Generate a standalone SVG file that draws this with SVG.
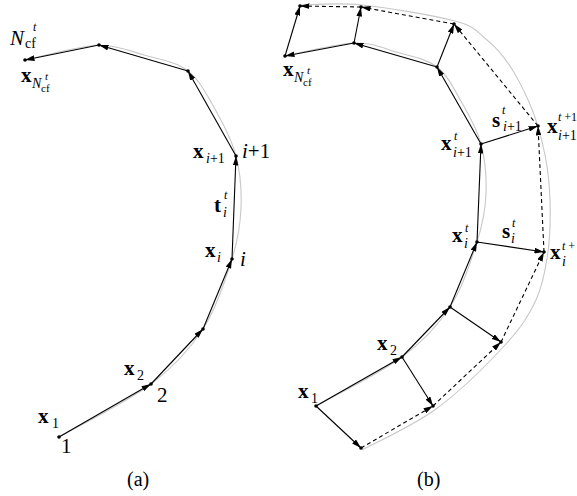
<svg xmlns="http://www.w3.org/2000/svg" width="577" height="496" viewBox="0 0 577 496">
<style>
text{font-family:"Liberation Serif","Times New Roman",serif;fill:#000}
.b{font-weight:bold;font-size:21px}
.it{font-style:italic}
.sub{font-size:14px}
.sm{font-size:12px}
.xs{font-size:11px}
.lab{font-size:21px}
.cap{font-size:20px}
.gray{fill:none;stroke:#c8c8c8;stroke-width:1.1}
.s{fill:none;stroke:#000;stroke-width:1.1;marker-end:url(#ah)}
.d{fill:none;stroke:#000;stroke-width:1.1;stroke-dasharray:4,3;marker-end:url(#ah)}
.dot{fill:#000}
</style>
<defs>
<marker id="ah" viewBox="0 0 10 6" refX="10" refY="3" markerWidth="9.5" markerHeight="5.7" markerUnits="userSpaceOnUse" orient="auto">
<path d="M0,0 L10,3 L0,6 z" fill="#000"/>
</marker>
</defs>
<rect width="577" height="496" fill="#fff"/>

<g id="guides">
<path class="gray" d="M59,437 C74.3,428.2 127,402 151,384 C175,366 189.5,349.8 203,329 C216.5,308.2 225.7,279.2 232,259 C238.3,238.8 240.3,225.2 241,208 C241.7,190.8 240.2,172.2 236,156 C231.8,139.8 224,125.2 216,111 C208,96.8 200,80.3 188,71 C176,61.7 158.8,59.3 144,55 C129.2,50.7 118.8,45.8 99,45 C79.2,45.8 37.3,57.5 25,60"/>
<path class="gray" d="M316,406 C330.3,397.8 379.7,373.5 402,357 C424.3,340.5 437.5,326.2 450,307 C462.5,287.8 471,260.8 477,242 C483,223.2 485.3,210.3 486,194 C486.7,177.7 485,159.2 481,144 C477,128.8 469.3,115.8 462,103 C454.7,90.2 448,75.5 437,67 C426,58.5 409.8,56 396,52 C382.2,48 372.5,42.3 354,43 C335.5,43.7 296.5,53.8 285,56"/>
<path class="gray" d="M362,450 C374.3,443.2 412.2,426.5 436,409 C459.8,391.5 488.3,363.2 505,345 C521.7,326.8 528.8,315.5 536,300 C543.2,284.5 545.7,268.7 548,252 C550.3,235.3 550.5,216.2 550,200 C549.5,183.8 548.3,171.5 545,155 C541.7,138.5 535.5,116.5 529,102 C522.5,87.5 517.8,77.7 510,66 C502.2,54.3 497,47.8 487,40 C477,32.2 476.8,26.8 455,21 C433.2,15.2 388,7.7 362,5 C336,2.3 309.5,5 299,5"/>
</g>

<g id="connectors">
<line class="s" x1="59" y1="437" x2="151" y2="384"/>
<line class="s" x1="151" y1="384" x2="203" y2="329"/>
<line class="s" x1="203" y1="329" x2="232" y2="259"/>
<line class="s" x1="232" y1="259" x2="236" y2="156"/>
<line class="s" x1="236" y1="156" x2="188" y2="71"/>
<line class="s" x1="188" y1="71" x2="99" y2="45"/>
<line class="s" x1="99" y1="45" x2="25" y2="60"/>
<line class="s" x1="316" y1="406" x2="402" y2="357"/>
<line class="s" x1="402" y1="357" x2="450" y2="307"/>
<line class="s" x1="450" y1="307" x2="477" y2="242"/>
<line class="s" x1="477" y1="242" x2="481" y2="144"/>
<line class="s" x1="481" y1="144" x2="437" y2="67"/>
<line class="s" x1="437" y1="67" x2="354" y2="43"/>
<line class="s" x1="354" y1="43" x2="285" y2="56"/>
<line class="s" x1="316" y1="406" x2="361" y2="448"/>
<line class="s" x1="402" y1="357" x2="433" y2="406"/>
<line class="s" x1="450" y1="307" x2="501" y2="342"/>
<line class="s" x1="477" y1="242" x2="544" y2="252"/>
<line class="s" x1="481" y1="144" x2="538" y2="126"/>
<line class="s" x1="437" y1="67" x2="454" y2="24"/>
<line class="s" x1="354" y1="43" x2="361" y2="7"/>
<line class="s" x1="285" y1="56" x2="300" y2="6"/>
<line class="d" x1="361" y1="448" x2="433" y2="406"/>
<line class="d" x1="433" y1="406" x2="501" y2="342"/>
<line class="d" x1="501" y1="342" x2="544" y2="252"/>
<line class="d" x1="544" y1="252" x2="538" y2="126"/>
<line class="d" x1="538" y1="126" x2="454" y2="24"/>
<line class="d" x1="454" y1="24" x2="361" y2="7"/>
<line class="d" x1="361" y1="7" x2="300" y2="6"/>
</g>

<g id="a-n1"><circle class="dot" cx="59" cy="437" r="1.8"/>
<text class="b" x="38" y="423">x</text><text class="sub" x="52" y="428">1</text>
<text class="lab" x="61" y="453">1</text></g>
<g id="a-n2"><circle class="dot" cx="151" cy="384" r="1.8"/>
<text class="b" x="124" y="375">x</text><text class="sub" x="137" y="380">2</text>
<text class="lab" x="157" y="402">2</text></g>
<g id="a-n3"><circle class="dot" cx="203" cy="329" r="1.8"/></g>
<g id="a-ni"><circle class="dot" cx="232" cy="259" r="1.8"/>
<text class="b" x="205" y="257">x</text><text class="sub it" x="217" y="262">i</text>
<text class="lab it" x="240" y="266">i</text></g>
<g id="a-ti"><text class="b" x="214" y="212">t</text>
<text class="sm it" x="224" y="199">t</text>
<text class="sub it" x="223" y="217">i</text></g>
<g id="a-ni1"><circle class="dot" cx="236" cy="156" r="1.8"/>
<text class="b" x="193" y="158">x</text><text class="sub" x="206" y="163"><tspan class="it">i</tspan>+1</text>
<text class="lab" x="242" y="158"><tspan class="it">i</tspan>+1</text></g>
<g id="a-n6"><circle class="dot" cx="188" cy="71" r="1.8"/></g>
<g id="a-n7"><circle class="dot" cx="99" cy="45" r="1.8"/></g>
<g id="a-nN"><circle class="dot" cx="25" cy="60" r="1.8"/>
<text class="lab it" x="10" y="45">N</text>
<text class="sub" x="25" y="48">cf</text>
<text class="sm it" x="33" y="31">t</text>
<text class="b" x="21" y="82">x</text>
<text class="sub it" x="32" y="88">N</text>
<text class="xs" x="41" y="92">cf</text>
<text class="xs it" x="45" y="80">t</text></g>
<text class="cap" x="127" y="486">(a)</text>

<g id="b-n1"><circle class="dot" cx="316" cy="406" r="1.8"/>
<text class="b" x="298" y="398">x</text><text class="sub" x="311" y="403">1</text></g>
<g id="b-n2"><circle class="dot" cx="402" cy="357" r="1.8"/>
<text class="b" x="377" y="350">x</text><text class="sub" x="390" y="355">2</text></g>
<g id="b-n3"><circle class="dot" cx="450" cy="307" r="1.8"/></g>
<g id="b-ni"><circle class="dot" cx="477" cy="242" r="1.8"/>
<text class="b" x="452" y="242">x</text>
<text class="sm it" x="465" y="232">t</text>
<text class="sub it" x="464" y="248">i</text></g>
<g id="b-si"><text class="b" x="502" y="238">s</text>
<text class="sm it" x="512" y="227">t</text>
<text class="sub it" x="511" y="243">i</text></g>
<g id="b-ni1"><circle class="dot" cx="481" cy="144" r="1.8"/>
<text class="b" x="441" y="150">x</text>
<text class="sm it" x="454" y="140">t</text>
<text class="sub" x="453" y="157"><tspan class="it">i</tspan>+1</text></g>
<g id="b-si1"><text class="b" x="492" y="127">s</text>
<text class="sm it" x="502" y="114">t</text>
<text class="sub" x="503" y="131"><tspan class="it">i</tspan>+1</text></g>
<g id="b-n6"><circle class="dot" cx="437" cy="67" r="1.8"/></g>
<g id="b-n7"><circle class="dot" cx="354" cy="43" r="1.8"/></g>
<g id="b-nN"><circle class="dot" cx="285" cy="56" r="1.8"/>
<text class="b" x="283" y="76">x</text>
<text class="sub it" x="294" y="82">N</text>
<text class="xs" x="303" y="86">cf</text>
<text class="xs it" x="307" y="74">t</text></g>
<g id="b-o1"><circle class="dot" cx="361" cy="448" r="1.8"/></g>
<g id="b-o2"><circle class="dot" cx="433" cy="406" r="1.8"/></g>
<g id="b-o3"><circle class="dot" cx="501" cy="342" r="1.8"/></g>
<g id="b-oi"><circle class="dot" cx="544" cy="252" r="1.8"/>
<text class="b" x="550" y="259">x</text>
<text class="sm" x="562" y="250"><tspan class="it">t</tspan> +</text>
<text class="sub it" x="562" y="266">i</text></g>
<g id="b-oi1"><circle class="dot" cx="538" cy="126" r="1.8"/>
<text class="b" x="547" y="133">x</text>
<text class="sm" x="558" y="121"><tspan class="it">t</tspan> +1</text>
<text class="sub" x="558" y="140"><tspan class="it">i</tspan>+1</text></g>
<g id="b-o6"><circle class="dot" cx="454" cy="24" r="1.8"/></g>
<g id="b-o7"><circle class="dot" cx="361" cy="7" r="1.8"/></g>
<g id="b-oN"><circle class="dot" cx="300" cy="6" r="1.8"/></g>
<text class="cap" x="417" y="486">(b)</text>
</svg>
